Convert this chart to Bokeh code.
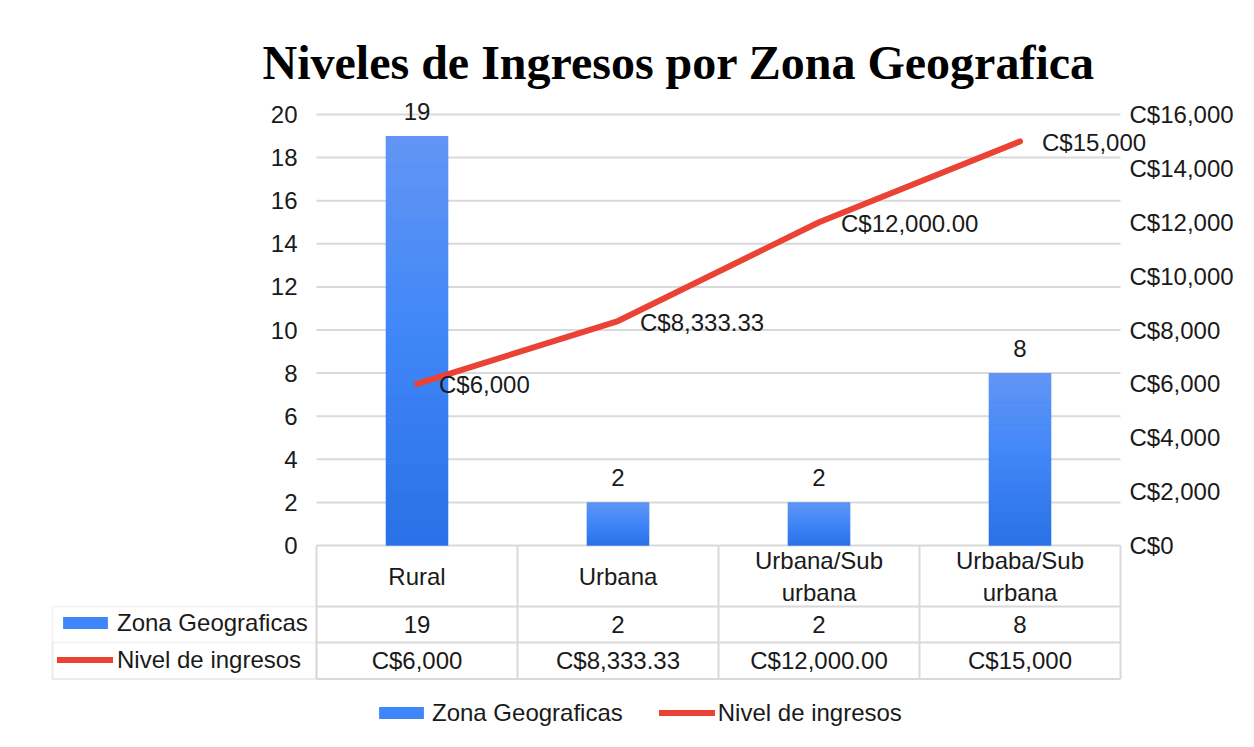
from bokeh.plotting import figure
from bokeh.models import (Range1d, LinearAxis, FixedTicker, CustomJSTickFormatter,
                          ColumnDataSource, Legend, LegendItem, BoxAnnotation)
from bokeh.core.properties import value
from bokeh.embed import file_html
from bokeh.resources import INLINE

# ---------------- data ----------------
titulo = "Niveles de Ingresos por Zona Geografica"
categorias = ["Rural", "Urbana", "Urbana/Sub urbana", "Urbaba/Sub urbana"]
zona_geograficas = [19, 2, 2, 8]
nivel_ingresos = [6000, 8333.33, 12000, 15000]
ingresos_labels = ["C$6,000", "C$8,333.33", "C$12,000.00", "C$15,000"]
left_ticks = list(range(0, 21, 2))
right_ticks = list(range(0, 16001, 2000))
serie_barras = "Zona Geograficas"
serie_linea = "Nivel de ingresos"

# ---------------- style / layout ----------------
FONT = "Liberation Sans"
FS = "24px"
TXT = "#1a1a1a"
RED = "#ea4335"
GRID = "#d9d9d9"
GRAD = [(0.0, (0x2a, 0x70, 0xe6)), (0.5, (0x3f, 0x86, 0xf8)), (1.0, (0x62, 0x95, 0xf4))]

W, H = 1250, 745
TOP = 92                  # title band height
PXX = 201.0               # px per category
PX = 431 / 20.0           # px per left-axis unit
ZERO_PX, ZERO_PY = 316, 545   # canvas position of (x=0, y=0)


def xd(px):
    return (px - ZERO_PX) / PXX


def yd(py):
    return (ZERO_PY - py) / PX


y_start, y_end = yd(H), yd(TOP)
ratio = right_ticks[-1] / left_ticks[-1]
n = len(categorias)
xs = [i + 0.5 for i in range(n)]
BAR_W = 0.31

p = figure(width=W, height=H, output_backend="svg", toolbar_location=None,
           x_range=Range1d(xd(0), xd(W)), y_range=Range1d(y_start, y_end),
           x_axis_location=None, y_axis_location=None,
           min_border_left=0, min_border_right=0,
           min_border_top=TOP, min_border_bottom=0)
p.extra_y_ranges = {"income": Range1d(y_start * ratio, y_end * ratio)}
p.outline_line_color = None
p.background_fill_color = "white"
p.border_fill_color = "white"
p.xgrid.visible = False
p.ygrid.visible = False

# title
p.title.text = titulo
p.title.text_font = "Liberation Serif"
p.title.text_font_size = "48px"
p.title.text_font_style = "bold"
p.title.text_color = "#000000"
p.title.align = "left"
p.title.offset = 262
p.title.standoff = 7

# left axis (drawn at x = 0, the left edge of the plot area)
lax = LinearAxis(ticker=FixedTicker(ticks=left_ticks), fixed_location=0)
# right axis (drawn at the right edge of the plot area)
rax = LinearAxis(y_range_name="income", ticker=FixedTicker(ticks=right_ticks),
                 fixed_location=n,
                 formatter=CustomJSTickFormatter(code='return "C$" + tick.toLocaleString("en-US");'))
for a, so in ((lax, 19), (rax, 9)):
    a.axis_line_color = None
    a.major_tick_line_color = None
    a.minor_tick_line_color = None
    a.major_tick_out = 0
    a.major_tick_in = 0
    a.major_label_standoff = so
    a.major_label_text_font = FONT
    a.major_label_text_font_size = FS
    a.major_label_text_color = TXT
p.add_layout(lax, "left")
p.add_layout(rax, "right")

# horizontal gridlines across the plot area, at the left-axis ticks
p.segment(x0=[0] * len(left_ticks), y0=left_ticks, x1=[n] * len(left_ticks), y1=left_ticks,
          line_color=GRID, line_width=2)

# ---------------- bars (gradient) ----------------
bar_src = ColumnDataSource(dict(x=xs, top=zona_geograficas))
bar_r = p.vbar(x="x", top="top", width=BAR_W, source=bar_src,
               fill_color="#3f86f8", line_color=None)


def grad_color(t):
    for (t0, c0), (t1, c1) in zip(GRAD[:-1], GRAD[1:]):
        if t0 <= t <= t1:
            f = (t - t0) / (t1 - t0)
            c = [round(a + (b - a) * f) for a, b in zip(c0, c1)]
            return "#%02x%02x%02x" % tuple(c)
    return "#%02x%02x%02x" % GRAD[-1][1]


NS = 30
gl, gr, gb, gt, gc = [], [], [], [], []
for x, v in zip(xs, zona_geograficas):
    for k in range(NS):
        gl.append(x - BAR_W / 2)
        gr.append(x + BAR_W / 2)
        gb.append(v * k / NS)
        gt.append(v * (k + 1) / NS + (0.02 if k < NS - 1 else 0))
        gc.append(grad_color((k + 0.5) / NS))
p.quad(left=gl, right=gr, bottom=gb, top=gt, fill_color=gc, line_color=None)

# bar value labels
p.text(x=xs, y=zona_geograficas, text=[str(v) for v in zona_geograficas],
       text_align="center", text_baseline="middle", y_offset=-25,
       text_font=value(FONT), text_font_size=FS, text_color=TXT)

# ---------------- line ----------------
line_src = ColumnDataSource(dict(x=xs, y=nivel_ingresos, lab=ingresos_labels))
line_r = p.line(x="x", y="y", source=line_src, y_range_name="income",
                line_color=RED, line_width=6, line_cap="round", line_join="round")
p.text(x="x", y="y", text="lab", source=line_src, y_range_name="income",
       text_align="left", text_baseline="middle", x_offset=22, y_offset=1,
       text_font=value(FONT), text_font_size=FS, text_color=TXT)

# ---------------- data table ----------------
Y_ROW1, Y_ROW2, Y_BOT = yd(606), yd(642), yd(678.5)
Y_HDR, Y_V1, Y_V2 = yd(576), yd(624), yd(660)
X_LAB = xd(52)

hy = [Y_ROW1, Y_ROW2, Y_BOT]
p.segment(x0=[0] * 3, y0=hy, x1=[n] * 3, y1=hy, line_color=GRID, line_width=2)
vx = list(range(n + 1))
p.segment(x0=vx, y0=[0] * len(vx), x1=vx, y1=[Y_BOT] * len(vx), line_color=GRID, line_width=2)

for top in (Y_ROW1, Y_ROW2):
    p.add_layout(BoxAnnotation(left=X_LAB, right=0, top=top, bottom=Y_BOT,
                               fill_alpha=0, line_color=GRID, line_width=2, level="underlay"))

hdr = [c.replace(" ", "\n") for c in categorias]
p.text(x=xs, y=[Y_HDR] * n, text=hdr, text_align="center", text_baseline="middle",
       text_font=value(FONT), text_font_size=FS, text_color=TXT, text_line_height=1.2)
p.text(x=xs, y=[Y_V1] * n, text=[str(v) for v in zona_geograficas], text_align="center",
       text_baseline="middle", text_font=value(FONT), text_font_size=FS, text_color=TXT)
p.text(x=xs, y=[Y_V2] * n, text=ingresos_labels, text_align="center",
       text_baseline="middle", text_font=value(FONT), text_font_size=FS, text_color=TXT)

# ---------------- legends ----------------
GW, GH = 56, 15


def make_legend(orientation, loc, spacing, standoff):
    return Legend(items=[LegendItem(label=serie_barras, renderers=[bar_r]),
                         LegendItem(label=serie_linea, renderers=[line_r])],
                  orientation=orientation, location=loc, spacing=spacing,
                  glyph_width=GW, glyph_height=GH, label_standoff=standoff,
                  padding=0, margin=0, border_line_color=None, background_fill_alpha=0,
                  label_text_font=FONT, label_text_font_size=FS, label_text_color=TXT,
                  label_height=20)


# row labels of the data table (left of the plot area)
p.add_layout(make_legend("vertical", (57, H - 673.5), 9, 4), "center")
# bottom legend
p.add_layout(make_legend("horizontal", (373, H - 726.5), 36, 3), "center")

open("out.html", "w").write(file_html(p, INLINE))
